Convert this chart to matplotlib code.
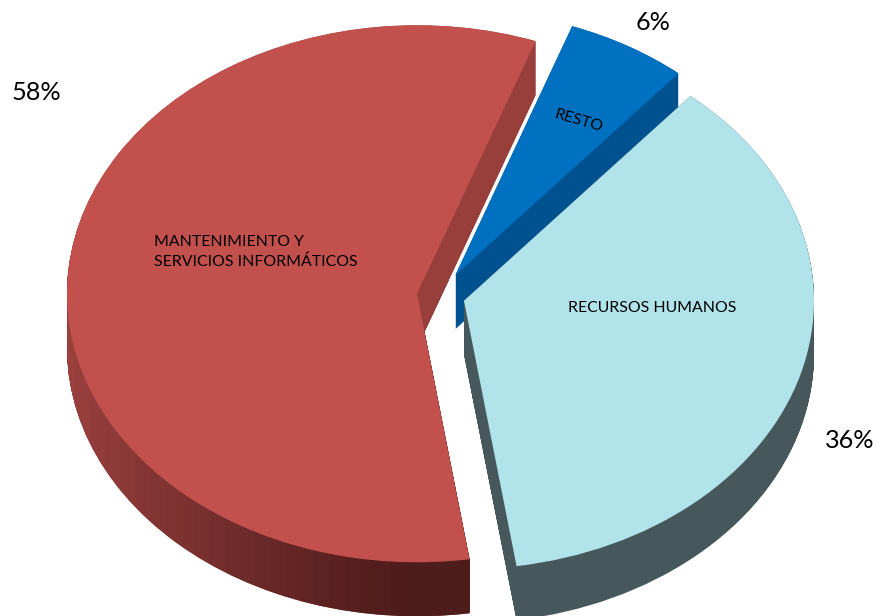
import numpy as np
import matplotlib
matplotlib.use("Agg")
import matplotlib.pyplot as plt
from matplotlib.path import Path
from matplotlib.patches import PathPatch
from matplotlib.colors import LinearSegmentedColormap

# Data
categories = ["MANTENIMIENTO Y\nSERVICIOS INFORMÁTICOS", "RECURSOS HUMANOS", "RESTO"]
values = [57.9, 36.4, 5.7]

# Style
top_colors = ["#C2514E", "#B0E3EA", "#0070C0"]
wall_colors = ["#983F3C", "#46585B", "#005190"]
explode = [0.066, 0.0712, 0.088]
start_angle = 70.2
W, H = 877, 616
cx, cy, rx, ry = 440, 295.5, 350, 268.5
depth_px = 54

plt.rcParams["font.family"] = ["Lato", "DejaVu Sans"]
fig = plt.figure(figsize=(W / 100, H / 100), dpi=100)
ax = fig.add_axes([0, 0, 1, 1])

wedges, _ = ax.pie(values, explode=explode, startangle=start_angle, colors=top_colors,
                   radius=1, wedgeprops=dict(linewidth=0))
wedges[2].set_radius(0.985)

ax.set_aspect("auto")
ax.set_xlim((0 - cx) / rx, (W - cx) / rx)
ax.set_ylim((cy - H) / ry, cy / ry)
ax.axis("off")


def swept(wedge):
    base = wedge.get_path()
    parts = []
    for k in np.arange(0, depth_px + 0.5, 1.0):
        parts.append(Path(base.vertices - [0, k / ry], base.codes))
    return Path.make_compound_path(*parts)


for w in wedges:
    w.set_zorder(5)

# Red wall: horizontal gradient in bands
red_map = LinearSegmentedColormap.from_list(
    "redwall",
    [(0.0, "#9A413E"), (0.2, "#843634"), (0.45, "#6C2B2A"), (0.72, "#561F1E"), (0.85, "#4E1C1B"), (1.0, "#4E1C1B")],
    N=28,
)
x0, x1 = (60 - cx) / rx, (480 - cx) / rx
im = ax.imshow(np.linspace(0, 1, 420).reshape(1, -1), cmap=red_map, aspect="auto",
               extent=(x0, x1, (cy - 620) / ry, (cy - 280) / ry), zorder=1, interpolation="nearest")
red_clip = PathPatch(swept(wedges[0]), transform=ax.transData, fc="none", ec="none")
ax.add_patch(red_clip)
im.set_clip_path(red_clip)
ax.add_patch(PathPatch(swept(wedges[0]), fc=wall_colors[0], ec="none", zorder=0.5))

# Red cut face (from the apex out to the start of the arc)
a0 = np.deg2rad(start_angle)
c0 = np.array(wedges[0].center)
tip = c0 + np.array([np.cos(a0), np.sin(a0)])
d = np.array([0, depth_px / ry])
ax.add_patch(plt.Polygon([c0, tip, tip - d, c0 - d], fc=wall_colors[0], ec="none", zorder=2))

# Walls of the other two slices
ax.add_patch(PathPatch(swept(wedges[1]), fc=wall_colors[1], ec="none", zorder=4))
ax.add_patch(PathPatch(swept(wedges[2]), fc=wall_colors[2], ec="none", zorder=3))
wedges[1].set_zorder(6)


def px_text(x, y, s, **kw):
    fig.text(x / W, 1 - y / H, s, color="black", zorder=10, **kw)


pct_pos = [(36, 93), (850, 440), (653, 23)]
for (x, y), v in zip(pct_pos, values):
    px_text(x, y, f"{round(v)}%", fontsize=18.2, ha="center", va="center")

px_text(154, 252, categories[0], fontsize=11.4, ha="left", va="center", linespacing=1.56)
px_text(652, 308, categories[1], fontsize=11.4, ha="center", va="center")
px_text(579, 121, categories[2], fontsize=11.4, ha="center", va="center", rotation=-16,
        rotation_mode="anchor")

fig.savefig("out.png", dpi=100)
